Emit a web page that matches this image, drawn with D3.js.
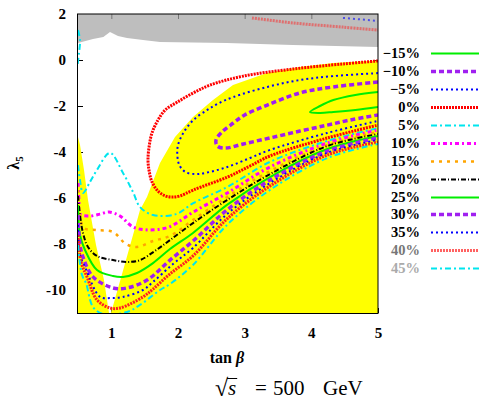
<!DOCTYPE html>
<html><head><meta charset="utf-8">
<script src="https://cdn.jsdelivr.net/npm/d3@7"></script>
<style>body{margin:0;background:#fff}svg{display:block}</style>
</head><body>
<svg id="chart" width="479" height="402"></svg>
<script>
// ---- axis ticks ----
const tanBetaTicks = [1, 2, 3, 4, 5];
const lambda5Ticks = [2, 0, -2, -4, -6, -8, -10];

// ---- legend labels (one per contour level) ----
const levelLabels = ["−15%", "−10%", "−5%", "0%", "5%", "10%", "15%", "20%", "25%", "30%", "35%", "40%", "45%"];

// ---- shaded regions, points as [tanβ, λ5] ----
const excludedTopEdge = [[5.0,0.57],[3.725,0.65],[2.735,0.74],[1.73,0.78],[1.475,0.87],[1.235,0.96],[1.1,1.04],[0.98,1.22],[0.88,1.0],[0.725,0.91],[0.5,0.74]];
const allowedLeft = [[0.5,-3.35],[0.53,-3.7],[0.59,-4.78],[0.65,-6.09],[0.77,-8.04],[0.89,-9.57],[0.965,-11],[0.5,-11]];
const allowedRight = [[0.995,-11],[1.22,-8.70],[1.43,-6.52],[1.535,-5.96],[1.73,-4.48],[1.955,-3.35],[2.225,-2.48],[2.525,-1.74],[2.825,-1.09],[3.335,-0.57],[3.83,-0.30],[4.325,-0.13],[5.0,-0.02],[5.0,-11]];

// ---- contour lines per level ----
const lvlM15 = [[[5.0,-1.39],[4.66,-1.52],[4.33,-1.74],[4.13,-2.0],[3.98,-2.26],[4.13,-2.30],[4.33,-2.26],[4.66,-2.17],[5.0,-2.04]]];
const lvlM10 = [[[5.0,-0.96],[4.33,-1.17],[3.83,-1.43],[3.34,-1.96],[3.0,-2.39],[2.83,-2.74],[2.66,-3.13],[2.57,-3.48],[2.59,-3.74],[2.71,-3.83],[2.98,-3.65],[3.38,-3.39],[3.83,-3.09],[4.24,-2.83],[4.58,-2.61],[5.0,-2.39]]];
const lvlM5 = [[[5.0,-0.57],[4.33,-0.70],[3.83,-0.87],[3.34,-1.17],[2.83,-1.61],[2.59,-1.91],[2.44,-2.17],[2.23,-2.61],[2.08,-3.17],[2.0,-3.70],[1.99,-4.13],[2.02,-4.57],[2.11,-4.87],[2.26,-4.96],[2.41,-4.91],[2.74,-4.65],[3.08,-4.26],[3.38,-3.91],[4.24,-3.17],[5.0,-2.65]]];
const lvl0 = [[[5.0,-0.04],[4.48,-0.17],[3.73,-0.39],[2.98,-0.70],[2.48,-1.09],[2.23,-1.43],[1.99,-1.83],[1.81,-2.17],[1.70,-2.61],[1.61,-3.17],[1.57,-3.70],[1.55,-4.35],[1.57,-4.87],[1.61,-5.30],[1.70,-5.70],[1.81,-5.91],[1.91,-5.96],[2.03,-5.91],[2.23,-5.65],[2.74,-5.09],[3.08,-4.61],[3.38,-4.17],[4.24,-3.39],[5.0,-2.83]]];
const lvl5 = [
  [[0.5,-4.57],[0.53,-5.22],[0.575,-5.78],[0.68,-5.30],[0.785,-4.78],[0.98,-4.04],[1.175,-4.91],[1.325,-5.74],[1.43,-6.39],[1.625,-6.74],[1.97,-6.70],[2.23,-6.22],[2.74,-5.52],[3.38,-4.43],[4.24,-3.52],[5.0,-2.96]],
  [[0.5,1.30],[0.53,0.87],[0.515,0.30],[0.49,-0.30]]
];
const lvl10 = [[[0.5,-5.35],[0.515,-6.09],[0.53,-6.70],[0.68,-6.78],[0.83,-6.70],[0.965,-6.61],[1.13,-6.78],[1.325,-7.26],[1.565,-7.39],[1.865,-7.26],[2.23,-6.61],[2.74,-5.78],[3.38,-4.65],[4.24,-3.61],[5.0,-3.04]]];
const lvl15 = [[[0.5,-5.65],[0.53,-6.74],[0.59,-7.30],[0.77,-7.39],[1.025,-7.48],[1.22,-8.0],[1.385,-8.13],[1.625,-7.87],[1.88,-7.65],[2.225,-6.96],[2.735,-5.96],[3.38,-4.83],[4.24,-3.70],[5.0,-3.13]]];
const lvl20 = [[[0.5,-5.91],[0.53,-6.74],[0.575,-7.52],[0.65,-8.13],[0.785,-8.52],[1.025,-8.70],[1.235,-8.78],[1.43,-8.70],[1.655,-8.30],[1.88,-7.83],[2.225,-7.09],[2.735,-6.09],[3.38,-4.96],[4.24,-3.74],[5.0,-3.22]]];
const lvl25 = [[[0.5,-6.30],[0.53,-7.61],[0.605,-8.26],[0.785,-9.13],[1.025,-9.39],[1.175,-9.43],[1.385,-9.26],[1.625,-8.83],[1.88,-8.22],[2.225,-7.52],[2.735,-6.30],[3.38,-5.09],[4.24,-3.87],[5.0,-3.30]]];
const lvl30 = [[[0.5,-6.74],[0.53,-8.04],[0.575,-8.57],[0.725,-9.43],[1.025,-9.91],[1.235,-9.91],[1.535,-9.57],[1.88,-8.70],[2.225,-7.87],[2.735,-6.52],[3.38,-5.22],[4.24,-3.96],[5.0,-3.39]]];
const lvl35 = [[[0.5,-7.17],[0.53,-8.48],[0.605,-9.0],[0.83,-10.30],[0.98,-10.35],[1.175,-10.30],[1.475,-10.0],[1.625,-9.65],[1.925,-8.87],[2.225,-8.17],[2.735,-6.70],[3.38,-5.35],[4.24,-4.04],[5.0,-3.48]]];
const lvl40 = [[[0.5,-7.61],[0.545,-8.78],[0.635,-9.43],[0.785,-10.43],[0.98,-10.78],[1.13,-10.78],[1.475,-10.30],[1.625,-9.96],[1.88,-9.30],[2.225,-8.52],[2.735,-6.91],[3.38,-5.48],[4.24,-4.13],[5.0,-3.57]]];
const lvl45 = [[[0.5,-8.04],[0.56,-9.35],[0.62,-9.70],[0.725,-10.74],[0.875,-11.04],[1.235,-10.96],[1.43,-10.65],[1.73,-10.0],[1.88,-9.74],[2.225,-8.91],[2.735,-7.17],[3.38,-5.65],[4.24,-4.26],[5.0,-3.65]]];
// pieces of the 35% and 40% contours lying in the excluded (grey) band
const lvl35Upper = [[4.475,1.83],[5.0,1.70]];
const lvl40Upper = [[3.11,1.83],[3.725,1.61],[4.475,1.43],[5.0,1.30]];

const contourSets = [lvlM15, lvlM10, lvlM5, lvl0, lvl5, lvl10, lvl15, lvl20, lvl25, lvl30, lvl35, lvl40, lvl45];

// gnuplot-like line types
const lineStyles = [
  {color:"#00ee00", width:2,   dash:null},
  {color:"#a020f0", width:3.5, dash:"5,3"},
  {color:"#0000ff", width:2,   dash:"2,3"},
  {color:"#ff0000", width:3,   dash:"2,1"},
  {color:"#00e5ee", width:2,   dash:"6,3,2,3"},
  {color:"#ff00ff", width:3,   dash:"4,3,2,3"},
  {color:"#ffa500", width:2.5, dash:"3,5"},
  {color:"#000000", width:2,   dash:"5,2,1,2"},
  {color:"#00ee00", width:2,   dash:null},
  {color:"#a020f0", width:3.5, dash:"5,3"},
  {color:"#0000ff", width:2,   dash:"2,3"},
  {color:"#ff2020", width:3,   dash:"2,1"},
  {color:"#00e5ee", width:2,   dash:"6,3,2,3"}
];
const labelColors = ["#000","#000","#000","#000","#000","#000","#000","#000","#000","#000","#000","#777","#aaa"];

const svg = d3.select("#chart");
const serif = "Liberation Serif";
const x = d3.scaleLinear().domain([0.5, 5]).range([78, 378]);
const y = d3.scaleLinear().domain([-11, 2]).range([313, 14]);

function bold(sel, size, color) {
  return sel.style("font-family", serif).style("font-weight", "700").style("font-size", size + "px")
    .attr("fill", color);
}

svg.append("rect").attr("width", 479).attr("height", 402).attr("fill", "#fff");

function styleAxis(g) {
  g.attr("font-family", serif);
  g.select(".domain").remove();
  g.selectAll(".tick line").attr("stroke", "#000");
  bold(g.selectAll(".tick text"), 15, "#000");
}

// tick marks (inward), labels on left and bottom
svg.append("g").attr("transform", "translate(0,313)")
  .call(d3.axisBottom(x).tickValues(tanBetaTicks).tickSizeInner(-5).tickSizeOuter(0).tickPadding(14).tickFormat(d => String(d)))
  .call(styleAxis);
svg.append("g").attr("transform", "translate(78,0)")
  .call(d3.axisLeft(y).tickValues(lambda5Ticks).tickSizeInner(-5).tickSizeOuter(0).tickPadding(12).tickFormat(d => String(d)))
  .call(styleAxis);
svg.append("g").attr("transform", "translate(378,0)")
  .call(d3.axisRight(y).tickValues(lambda5Ticks).tickSizeInner(-5).tickSizeOuter(0).tickFormat(""))
  .call(styleAxis);

const area = d3.line().x(d => x(d[0])).y(d => y(d[1]));

svg.append("defs").append("clipPath").attr("id", "plotClip")
  .append("rect").attr("x", 78).attr("y", 14).attr("width", 300).attr("height", 299);

const plot = svg.append("g").attr("clip-path", "url(#plotClip)");

// excluded band at the top
plot.append("path")
  .attr("d", area([[0.5, 2], [5, 2]].concat(excludedTopEdge)) + "Z")
  .attr("fill", "#bebebe");

// mirrored ticks on the top edge
svg.append("g").attr("transform", "translate(0,14)")
  .call(d3.axisTop(x).tickValues(tanBetaTicks.slice(0, 4)).tickSizeInner(-5).tickSizeOuter(0).tickFormat(""))
  .call(g => { g.select(".domain").remove(); g.selectAll(".tick line").attr("stroke", "#777"); });

// allowed region
plot.append("path").attr("d", area(allowedLeft) + "Z").attr("fill", "#ffff00");
plot.append("path").attr("d", area(allowedRight) + "Z").attr("fill", "#ffff00");

// contours
const curve = d3.line().x(d => x(d[0])).y(d => y(d[1])).curve(d3.curveCatmullRom.alpha(0.5));
function drawLine(g, pts, st, opacity) {
  g.append("path").attr("d", curve(pts)).attr("fill", "none")
    .attr("stroke", st.color).attr("stroke-width", st.width)
    .attr("stroke-dasharray", st.dash).attr("stroke-opacity", opacity);
}
drawLine(plot, lvl40Upper, lineStyles[11], 0.5);
drawLine(plot, lvl35Upper, lineStyles[10], 0.6);
contourSets.forEach((segs, i) => {
  segs.forEach(seg => drawLine(plot, seg, lineStyles[i], 1));
});

// frame
svg.append("rect").attr("x", 77.5).attr("y", 14).attr("width", 300.5).attr("height", 299.5)
  .attr("fill", "none").attr("stroke", "#000").attr("stroke-width", 1);

// legend
const legend = svg.append("g");
levelLabels.forEach((lab, i) => {
  const ly = 53.3 + i * 17.9;
  bold(legend.append("text").attr("x", 420).attr("y", ly).attr("dy", "0.35em")
    .attr("text-anchor", "end"), 14.5, labelColors[i]).text(lab);
  const st = lineStyles[i];
  legend.append("line").attr("x1", 431).attr("x2", 479).attr("y1", Math.round(ly) + 0.5).attr("y2", Math.round(ly) + 0.5)
    .attr("stroke", st.color).attr("stroke-width", st.width)
    .attr("stroke-dasharray", st.dash).attr("stroke-opacity", i === 11 ? 0.7 : 1);
});

// axis titles
const xt = bold(svg.append("text").attr("x", 227).attr("y", 363).attr("text-anchor", "middle"), 16, "#000");
xt.append("tspan").text("tan ");
xt.append("tspan").style("font-style", "italic").text("β");

const yt = bold(svg.append("text").attr("transform", "translate(19,163) rotate(-90)")
  .attr("text-anchor", "middle"), 16, "#000");
yt.append("tspan").text("λ");
yt.append("tspan").style("font-size", "11px").attr("dy", 4).text("5");

// energy caption
const cap = svg.append("g").style("font-family", serif).style("font-size", "21px").attr("fill", "#000");
cap.append("text").attr("x", 215).attr("y", 396).style("font-size", "24px").text("√");
const sText = cap.append("text").attr("x", 228).attr("y", 395).style("font-style", "italic").text("s");
cap.append("text").attr("x", 261).attr("y", 395).attr("text-anchor", "middle").text("=");
cap.append("text").attr("x", 273).attr("y", 395).text("500");
cap.append("text").attr("x", 323).attr("y", 395).text("GeV");
const sw = sText.node().getComputedTextLength();
cap.append("line").attr("x1", 227).attr("x2", 228 + sw + 1).attr("y1", 378.5).attr("y2", 378.5)
  .attr("stroke", "#000").attr("stroke-width", 1);
</script>
</body></html>
